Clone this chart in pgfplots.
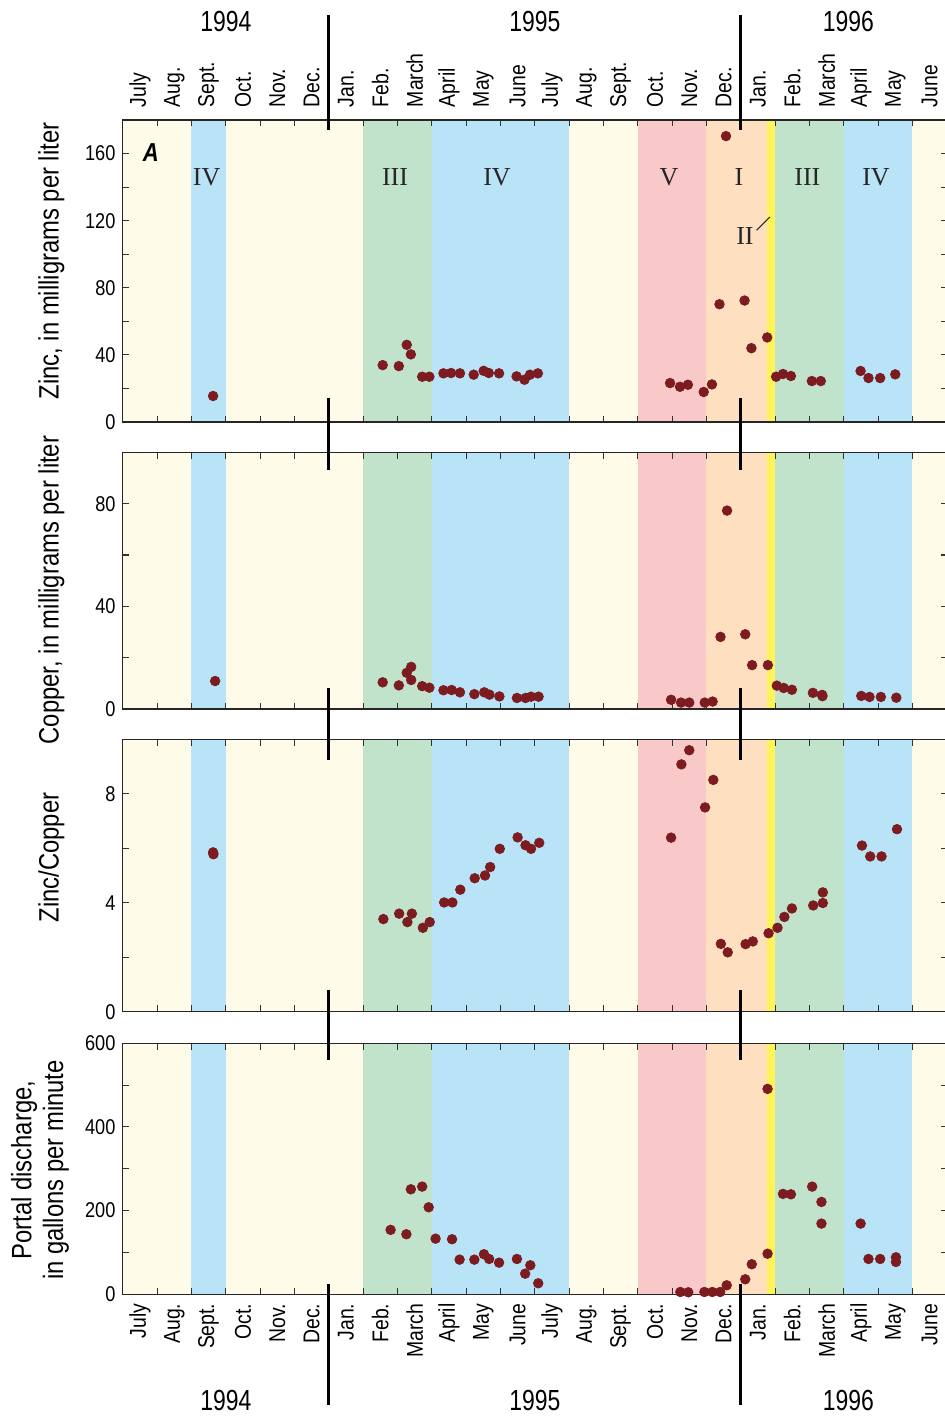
\documentclass[border=0pt]{standalone}
\usepackage{fontspec}
\setmainfont{Liberation Sans}[FakeStretch=0.85]
\newfontfamily\yearfont{Liberation Sans}[FakeStretch=0.79]
\newfontfamily\romanfont{Liberation Serif}
\usepackage{pgfplots}
\pgfplotsset{compat=1.18}

\definecolor{cream}{RGB}{255,251,233}
\definecolor{bandblue}{RGB}{185,228,248}
\definecolor{bandgreen}{RGB}{193,226,203}
\definecolor{bandpink}{RGB}{249,201,201}
\definecolor{bandorange}{RGB}{254,223,191}
\definecolor{bandyellow}{RGB}{255,243,90}
\definecolor{dotred}{RGB}{125,28,32}

% seasonal bands, x in months from July 1994
\newcommand{\bands}[1]{%
  \fill[bandblue]   (axis cs:2,0)     rectangle (axis cs:3,#1);
  \fill[bandgreen]  (axis cs:7,0)     rectangle (axis cs:9,#1);
  \fill[bandblue]   (axis cs:9,0)     rectangle (axis cs:13,#1);
  \fill[bandpink]   (axis cs:15,0)    rectangle (axis cs:17,#1);
  \fill[bandorange] (axis cs:17,0)    rectangle (axis cs:18.77,#1);
  \fill[bandyellow] (axis cs:18.77,0) rectangle (axis cs:19,#1);
  \fill[bandgreen]  (axis cs:19,0)    rectangle (axis cs:21,#1);
  \fill[bandblue]   (axis cs:21,0)    rectangle (axis cs:23,#1);
}

\pgfplotsset{
  panel/.style={
    scale only axis, width=13.951cm, anchor=north west,
    xmin=0, xmax=24,
    axis background/.style={fill=cream},
    axis on top, clip=false,
    tick align=inside,
    major tick length=3pt, minor tick length=3pt,
    every tick/.style={black!80, line width=0.5pt},
    axis line style={black!85, line width=0.6pt},
    xtick={0,...,24}, xticklabels={},
    yticklabel pos=left,
    tick label style={font=\fontsize{10.3}{12}\selectfont},
    /pgf/number format/assume math mode=true,
    ylabel style={font=\fontsize{13.5}{15.4}\selectfont, align=center, anchor=center},
  },
  months/.style={
    x tick label as interval,
    xticklabels={July,Aug.,Sept.,Oct.,Nov.,Dec.,Jan.,Feb.,March,April,May,June,
                 July,Aug.,Sept.,Oct.,Nov.,Dec.,Jan.,Feb.,March,April,May,June},
  },
  dots/.style={only marks, mark=*, mark size=2.3pt, color=dotred},
}

\begin{document}
\begin{tikzpicture}
\path[use as bounding box] (0,0) rectangle (16cm,-23.975cm);

% ---------- Zinc ----------
\begin{axis}[panel, months, at={(2.0792cm,-2.0317cm)}, height=5.1132cm,
    ymin=0, ymax=180, ytick={0,40,...,160}, minor ytick={20,60,100,140},
    xticklabel pos=right,
    xticklabel style={rotate=90, anchor=west, inner sep=1pt,
                      font=\fontsize{11}{13}\selectfont},
    xticklabel shift=5pt,
    ylabel={Zinc, in milligrams per liter},
    ylabel style={at={(axis description cs:-0.0868,0.533)}}]
\bands{180}
\addplot[dots] table {
2.63 15.5
7.57 33.9
8.04 33.3
8.27 46.0
8.39 40.3
8.72 27.0
8.93 27.0
9.34 29.0
9.56 29.2
9.82 29.0
10.22 28.2
10.51 30.5
10.66 29.2
10.96 29.0
11.47 27.2
11.70 25.2
11.86 28.2
12.09 29.0
15.94 23.2
16.23 21.0
16.46 22.2
16.92 17.9
17.16 22.4
17.38 70.2
17.57 170.4
18.11 72.4
18.31 44.0
18.77 50.4
19.03 27.0
19.23 28.6
19.46 27.4
20.07 24.4
20.33 24.4
21.49 30.4
21.72 26.2
22.06 26.2
22.50 28.4
};
\node[font=\fontsize{12.5}{14}\selectfont\bfseries\itshape] at (axis cs:0.82,160.7) {A};
\begin{scope}[every node/.style={font=\romanfont\fontsize{12.5}{14}\selectfont, text=black!85}]
\node at (axis cs:2.44,145.8) {IV};
\node at (axis cs:7.93,145.8) {III};
\node at (axis cs:10.9,145.8) {IV};
\node at (axis cs:15.91,145.8) {V};
\node at (axis cs:17.95,145.8) {I};
\node at (axis cs:19.94,145.8) {III};
\node at (axis cs:21.94,145.8) {IV};
\node at (axis cs:18.12,110.9) {II};
\end{scope}
\draw[black!85, line width=0.5pt] (axis cs:18.46,114.3) -- (axis cs:18.85,122.2);
\end{axis}

% ---------- Copper ----------
\begin{axis}[panel, at={(2.0792cm,-7.6580cm)}, height=4.3463cm,
    ymin=0, ymax=100, ytick={0,40,80}, minor ytick={20,60},
    ylabel={Copper, in milligrams per liter},
    ylabel style={at={(axis description cs:-0.0868,0.4636)}}]
\bands{100}
\addplot[dots] table {
2.69 10.9
7.57 10.4
8.04 9.2
8.27 14.1
8.40 16.4
8.40 11.3
8.72 8.9
8.93 8.3
9.34 7.3
9.58 7.4
9.82 6.5
10.24 5.8
10.53 6.5
10.68 5.6
10.97 4.9
11.48 4.3
11.73 4.3
11.89 4.8
12.11 4.8
15.97 3.6
16.26 2.5
16.50 2.5
16.95 2.5
17.18 2.9
17.41 28.1
17.60 77.3
18.13 29.1
18.33 17.1
18.79 17.1
19.05 9.1
19.25 8.2
19.49 7.5
20.10 6.3
20.37 5.5
20.38 5.0
21.51 5.1
21.75 4.7
22.08 4.7
22.53 4.4
};
\end{axis}

% ---------- Zinc/Copper ----------
\begin{axis}[panel, at={(2.0792cm,-12.5173cm)}, height=4.6121cm,
    ymin=0, ymax=10, ytick={0,4,8}, minor ytick={2,6},
    ylabel={Zinc/Copper},
    ylabel style={at={(axis description cs:-0.0868,0.566)}}]
\bands{10}
\addplot[dots] table {
2.63 5.85
2.64 5.78
7.59 3.40
8.05 3.60
8.29 3.29
8.42 3.60
8.74 3.08
8.94 3.29
9.36 4.01
9.60 4.01
9.83 4.48
10.25 4.90
10.55 5.00
10.70 5.31
10.98 5.98
11.50 6.40
11.73 6.11
11.89 5.98
12.13 6.20
15.97 6.39
16.27 9.08
16.50 9.60
16.96 7.50
17.20 8.51
17.42 2.49
17.62 2.18
18.14 2.48
18.35 2.58
18.81 2.88
19.07 3.08
19.27 3.48
19.49 3.79
20.11 3.90
20.39 3.99
20.39 4.38
21.53 6.10
21.77 5.70
22.10 5.70
22.55 6.70
};
\end{axis}

% ---------- Portal discharge ----------
\begin{axis}[panel, months, at={(2.0792cm,-17.6643cm)}, height=4.2497cm,
    ymin=0, ymax=600, ytick={0,200,400,600}, minor ytick={100,300,500},
    xticklabel pos=left,
    xticklabel style={rotate=90, anchor=east, inner sep=1pt,
                      font=\fontsize{11}{13}\selectfont},
    xticklabel shift=3.3pt,
    ylabel={Portal discharge,\\in gallons per minute},
    ylabel style={at={(axis description cs:-0.1005,0.495)}}]
\bands{600}
\addplot[dots] table {
7.80 154
8.26 143.5
8.39 251
8.72 257.4
8.91 208
9.11 133
9.59 131.6
9.81 82.8
10.24 82.8
10.52 95.7
10.67 84.4
10.96 75.6
11.48 84.4
11.72 49.3
11.87 69.4
12.10 26.3
16.24 5.5
16.47 4.8
16.94 5.5
17.17 5.5
17.40 5.5
17.59 21.5
18.13 35.9
18.32 71.8
18.78 97
18.78 491
19.23 240
19.46 239
20.08 257.4
20.35 220.8
20.35 169
21.49 169
21.72 84.4
22.06 84.4
22.52 88.5
22.52 77.3
};
\end{axis}

% ---------- year dividers and year labels ----------
\begin{scope}[line width=1.3pt]
\foreach \xx in {5.567,12.543} {
  \draw (\xx,-0.254) -- (\xx,-2.201);
  \draw (\xx,-6.739) -- (\xx,-7.958);
  \draw (\xx,-11.649) -- (\xx,-12.868);
  \draw (\xx,-16.762) -- (\xx,-17.947);
  \draw (\xx,-21.740) -- (\xx,-23.788);
}
\end{scope}
\begin{scope}[every node/.style={font=\yearfont\fontsize{14}{16}\selectfont}]
\node at (3.823,-0.367) {1994};
\node at (9.055,-0.367) {1995};
\node at (14.366,-0.367) {1996};
\node at (3.823,-23.704) {1994};
\node at (9.055,-23.704) {1995};
\node at (14.366,-23.704) {1996};
\end{scope}
\end{tikzpicture}
\end{document}
